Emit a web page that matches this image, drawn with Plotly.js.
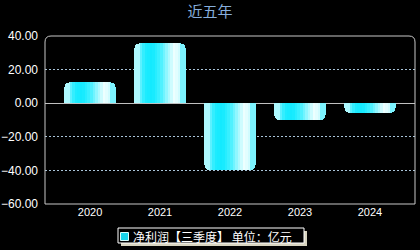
<!DOCTYPE html>
<html>
<head>
<meta charset="utf-8">
<script src="https://cdn.plot.ly/plotly-3.0.1.min.js"></script>
<style>
  html, body { margin: 0; padding: 0; background: #000; }
  #chart { width: 420px; height: 250px; }
</style>
</head>
<body>
<div id="chart"></div>
<script>
// Net profit (Q3 cumulative), unit: 100 million CNY
const years = ['2020', '2021', '2022', '2023', '2024'];
const netProfit = [12.4, 35.6, -39.8, -10.2, -5.7];
const yTicks = [-60, -40, -20, 0, 20, 40];
const seriesName = '净利润【三季度】 单位：亿元';

// Horizontal sheen across each bar: colour stops [position, r, g, b]
const sheen = [
  [0.00, 200, 252, 255],
  [0.08, 128, 244, 255],
  [0.20, 32, 236, 255],
  [0.35, 16, 234, 255],
  [0.50, 64, 240, 255],
  [0.65, 160, 248, 255],
  [0.78, 240, 255, 255],
  [0.88, 208, 252, 255],
  [1.00, 96, 240, 255]
];
function sheenAt(t) {
  for (let i = 1; i < sheen.length; i++) {
    if (t <= sheen[i][0]) {
      const a = sheen[i - 1], b = sheen[i];
      const k = (t - a[0]) / (b[0] - a[0]);
      const c = [1, 2, 3].map(j => Math.round(a[j] + (b[j] - a[j]) * k));
      return 'rgb(' + c.join(',') + ')';
    }
  }
  const l = sheen[sheen.length - 1];
  return 'rgb(' + l[1] + ',' + l[2] + ',' + l[3] + ')';
}

const BW = 0.73;          // bar width in category units
const RADIUS = 5;         // rounded end, px
const T0 = 0.1, T1 = 0.9; // inner band painted in strips
const N = 16;

const traces = [];
function barTrace(offset, width, color, radius) {
  return {
    type: 'bar', x: years, y: netProfit,
    offset: offset, width: width,
    marker: { color: color, cornerradius: radius, line: { width: 0 } },
    name: seriesName, showlegend: false, hoverinfo: 'skip'
  };
}
// rounded shells carrying the edge colours
traces.push(barTrace(-BW / 2, BW, sheenAt(0.03), RADIUS));
traces.push(barTrace(0, BW / 2, sheenAt(0.97), RADIUS));
// inner strips
const dt = (T1 - T0) / N;
for (let i = 0; i < N; i++) {
  const t = T0 + i * dt;
  const w = dt * BW * (i === N - 1 ? 1 : 1.2);
  traces.push(barTrace(-BW / 2 + t * BW, w, sheenAt(t + dt / 2), 0));
}

// plot area in px: x 45..415, y 36..204 -> paper coordinates
const px = v => (v - 45) / 370;
const py = v => (204 - v) / 168;

const rx = 6 / 370, ry = 6 / 168;
const framePath =
  'M0,0 L0,' + (1 - ry) + ' Q0,1 ' + rx + ',1 L' + (1 - rx) + ',1 Q1,1 1,' + (1 - ry) + ' L1,0 Z';

const layout = {
  width: 420, height: 250,
  paper_bgcolor: '#000', plot_bgcolor: '#000',
  margin: { l: 45, r: 5, t: 36, b: 46, pad: 0 },
  font: { family: 'Liberation Sans, Arial, Noto Sans CJK SC, sans-serif', color: '#fff', size: 12 },
  title: {
    text: '近五年', x: 0.5, xanchor: 'center', y: 0.952, yanchor: 'middle',
    font: { family: 'Noto Sans CJK SC, sans-serif', size: 15, color: '#86aedc' }
  },
  barmode: 'overlay', bargap: 0,
  showlegend: false,
  xaxis: {
    type: 'category', range: [-0.643, 4.643],
    showgrid: false, zeroline: false, showline: false, ticks: '',
    tickfont: { size: 11, color: '#fff' }, fixedrange: true
  },
  yaxis: {
    range: [-60, 40], tickvals: yTicks, tickformat: '.2f',
    showgrid: true, gridcolor: '#a8c4d8', griddash: '2px,2px', gridwidth: 1,
    zeroline: true, zerolinecolor: '#c0c0c0', zerolinewidth: 1,
    showline: false, ticks: '', ticklabelstandoff: 6,
    tickfont: { size: 12, color: '#fff' }, fixedrange: true
  },
  shapes: [
    { type: 'path', xref: 'paper', yref: 'paper', path: framePath,
      line: { color: '#c8c8c8', width: 1 }, fillcolor: 'rgba(0,0,0,0)', layer: 'above' },
    // legend: drop shadow, box, swatch
    { type: 'rect', xref: 'paper', yref: 'paper',
      x0: px(121), x1: px(307), y0: py(246), y1: py(231),
      fillcolor: '#d8d4c0', line: { width: 0 }, layer: 'above' },
    { type: 'rect', xref: 'paper', yref: 'paper',
      x0: px(118), x1: px(304), y0: py(243), y1: py(228),
      fillcolor: '#000', line: { color: '#fff', width: 1 }, layer: 'above' },
    { type: 'rect', xref: 'paper', yref: 'paper',
      x0: px(120.5), x1: px(128.5), y0: py(240.5), y1: py(232.5),
      fillcolor: '#18d4ec', line: { color: '#d8ffff', width: 1 }, layer: 'above' }
  ],
  annotations: [
    { xref: 'paper', yref: 'paper', x: px(131), y: py(236), xanchor: 'left', yanchor: 'middle',
      text: seriesName, showarrow: false,
      font: { family: 'Noto Sans CJK SC, sans-serif', size: 12, color: '#fff' } }
  ]
};

Plotly.newPlot('chart', traces, layout, { displayModeBar: false, staticPlot: true });
</script>
</body>
</html>
